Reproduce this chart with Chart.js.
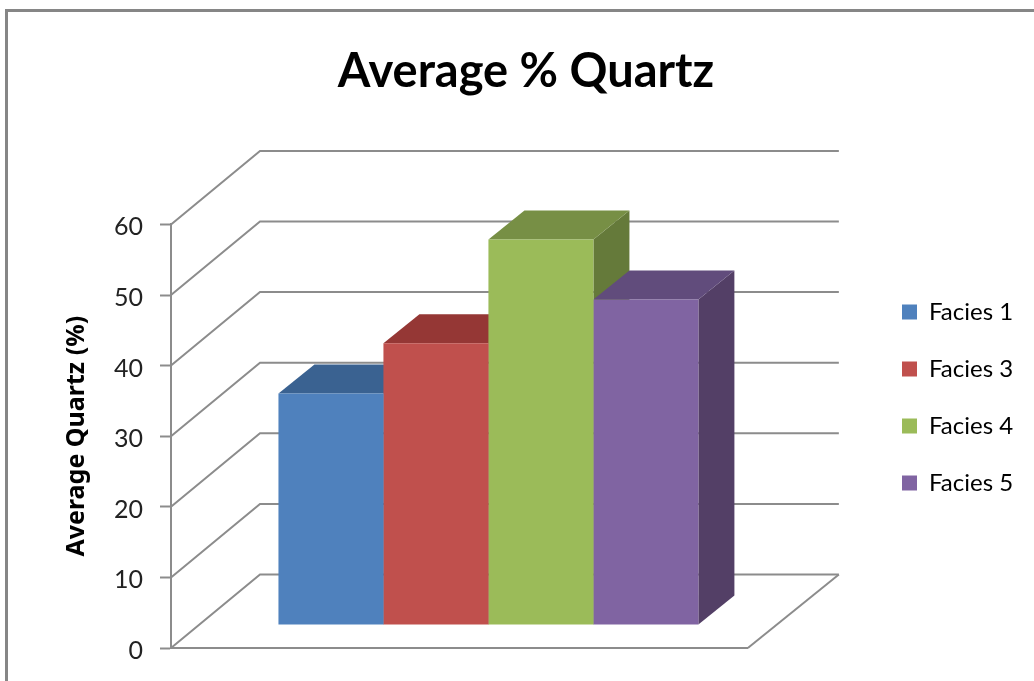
<!DOCTYPE html>
<html>
<head>
<meta charset="utf-8">
<script src="https://cdn.jsdelivr.net/npm/chart.js@4"></script>
<style>
    html, body { margin: 0; padding: 0; background: #fff; overflow: hidden; }
    #frame { position: absolute; left: 5px; top: 9px; width: 1040px; height: 700px; border: 3px solid #868686; }
    #chart { position: absolute; left: 0; top: 0; }
</style>
</head>
<body>
<div id="frame"></div>
<canvas id="chart" width="1034" height="681"></canvas>
<script>
const categories = ["Average Quartz"];
const seriesNames = ["Facies 1", "Facies 3", "Facies 4", "Facies 5"];
const facies1 = [32.8];
const facies3 = [39.9];
const facies4 = [54.6];
const facies5 = [46.1];
const seriesValues = [facies1, facies3, facies4, facies5];
const frontColors = ["#4f81bd", "#c0504d", "#9bbb59", "#8064a2"];
const topColors = ["#3a6291", "#953735", "#778f45", "#614c7c"];
const sideColors = ["#325480", "#7f2f2d", "#657a3a", "#533f66"];

const gridColor = "#8c8c8c";
const fontName = "Lato, 'Open Sans', sans-serif";
// floor depth, and how far the bars sit back from the front edge
const wallLeftX = 89, wallRightX = 91, wallY = 73.5;
const barShiftX = 29, barShiftY = 23;
const barDepthX = 36, barDepthY = 29;

const extrudePlugin = {
    id: "extrude",
    afterLayout(chart) {
        // the legend and title do not sit where the layout puts them
        chart.titleBlock.left = 18;
        chart.titleBlock.right = 1034;
        chart.legend.left = 869;
        chart.legend.right = 1034;
        chart.legend.top = 267;
        chart.legend.bottom = 681;
    },
    beforeDatasetsDraw(chart) {
        const { ctx, scales: { x, y } } = chart;
        ctx.save();
        ctx.strokeStyle = gridColor;
        ctx.lineWidth = 2;
        y.ticks.forEach((tick) => {
            const py = y.getPixelForValue(tick.value);
            ctx.beginPath();
            ctx.moveTo(x.left, py);
            ctx.lineTo(x.left + wallLeftX, py - wallY);
            ctx.lineTo(x.right + wallRightX, py - wallY);
            ctx.stroke();
        });
        const floor = y.getPixelForValue(0);
        ctx.beginPath();
        ctx.moveTo(x.right, floor);
        ctx.lineTo(x.right + wallRightX, floor - wallY);
        ctx.stroke();
        ctx.restore();

        ctx.save();
        ctx.translate(barShiftX, -barShiftY);
        seriesValues.forEach((values, i) => {
            const bar = chart.getDatasetMeta(i).data[0];
            const left = bar.x - bar.width / 2;
            const right = bar.x + bar.width / 2;
            ctx.fillStyle = sideColors[i];
            ctx.beginPath();
            ctx.moveTo(right, bar.y);
            ctx.lineTo(right + barDepthX, bar.y - barDepthY);
            ctx.lineTo(right + barDepthX, bar.base - barDepthY);
            ctx.lineTo(right, bar.base);
            ctx.closePath();
            ctx.fill();
            ctx.fillStyle = topColors[i];
            ctx.beginPath();
            ctx.moveTo(left, bar.y);
            ctx.lineTo(left + barDepthX, bar.y - barDepthY);
            ctx.lineTo(right + barDepthX, bar.y - barDepthY);
            ctx.lineTo(right, bar.y);
            ctx.closePath();
            ctx.fill();
        });
        // stays translated for the native front faces
    },
    afterDatasetsDraw(chart) {
        chart.ctx.restore();
    }
};

new Chart(document.getElementById("chart").getContext("2d"), {
    type: "bar",
    data: {
        labels: categories,
        datasets: seriesNames.map((name, i) => ({
            label: name,
            data: seriesValues[i],
            backgroundColor: frontColors[i],
            borderWidth: 0,
            clip: false,
            categoryPercentage: 0.728,
            barPercentage: 1
        }))
    },
    options: {
        responsive: false,
        animation: false,
        devicePixelRatio: 1,
        layout: { padding: { left: 18, right: 132, top: 0, bottom: 33 } },
        plugins: {
            title: {
                display: true,
                text: "Average % Quartz",
                color: "#000",
                font: { family: fontName, size: 47, weight: "bold" },
                padding: { top: 44, bottom: 124 }
            },
            legend: {
                position: "right",
                align: "start",
                labels: {
                    color: "#000",
                    font: { family: fontName, size: 24 },
                    boxWidth: 15,
                    boxHeight: 15,
                    padding: 33
                }
            },
            tooltip: { enabled: false }
        },
        scales: {
            x: {
                ticks: { display: false },
                grid: { drawTicks: false, drawOnChartArea: false },
                border: { color: gridColor, width: 2 }
            },
            y: {
                min: 0,
                max: 60,
                afterFit: (scale) => { scale.width = 153; },
                ticks: {
                    stepSize: 10,
                    color: "#222",
                    padding: 17,
                    labelOffset: 3,
                    font: { family: fontName, size: 25 }
                },
                grid: { drawOnChartArea: false, tickLength: 11, tickColor: gridColor, tickWidth: 2 },
                border: { color: gridColor, width: 2 },
                title: {
                    display: true,
                    text: "Average Quartz (%)",
                    color: "#000",
                    padding: { top: 44, bottom: 0 },
                    font: { family: "'Noto Sans', sans-serif", size: 25, weight: "bold" }
                }
            }
        }
    },
    plugins: [extrudePlugin]
});
</script>
</body>
</html>
